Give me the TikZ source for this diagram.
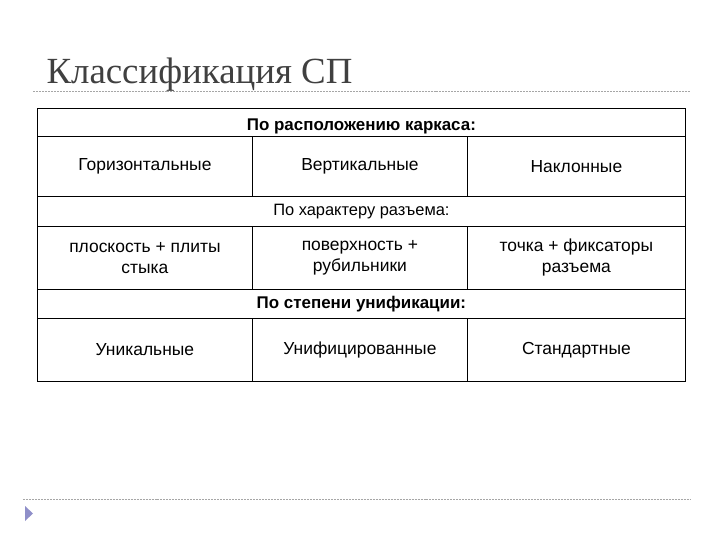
\documentclass[tikz,border=0pt]{standalone}
\usepackage{fontspec}
\setmainfont{Liberation Sans}
\newfontfamily\titlefont{Liberation Serif}
\begin{document}
\begin{tikzpicture}[x=1bp,y=-1bp,
  cell/.style={draw=black,line width=0.8pt,minimum width=#1,anchor=north west,inner sep=0pt,align=center,font=\fontsize{17.5}{21}\selectfont},
  sep/.style={draw=gray!70,dash pattern=on 2pt off 1pt,line width=0.8pt}]
\useasboundingbox (0,0) rectangle (720,540);
\node[anchor=base west,text=black!75,font=\titlefont\fontsize{37}{40}\selectfont] (title) at (43,84) {Классификация СП};
\coordinate (s1a) at (33,91); \coordinate (s1b) at (690,91);
\draw[sep] (s1a) -- (s1b);
\coordinate (s2a) at (23,499); \coordinate (s2b) at (690,499);
\draw[sep] (s2a) -- (s2b);
\fill[blue!35!gray!65] (25,506) -- (33,513.5) -- (25,521) -- cycle;
\node[cell=648bp,minimum height=28bp,text depth=0pt,font=\bfseries\fontsize{17}{19}\selectfont] (h1) at (37,108) {\raisebox{-4bp}{По расположению каркаса:}};
\node[cell=215bp,minimum height=60bp] (a1) at (37,136) {Горизонтальные};
\node[cell=215bp,minimum height=60bp] (a2) at (252,136) {Вертикальные};
\node[cell=218bp,minimum height=60bp] (a3) at (467,136) {Наклонные};
\node[cell=648bp,minimum height=30bp,font=\fontsize{16.5}{18}\selectfont] (h2) at (37,196) {\raisebox{2bp}{По характеру разъема:}};
\node[cell=215bp,minimum height=63bp] (b1) at (37,226) {плоскость + плиты\\стыка};
\node[cell=215bp,minimum height=63bp] (b2) at (252,226) {поверхность +\\рубильники};
\node[cell=218bp,minimum height=63bp] (b3) at (467,226) {точка + фиксаторы\\разъема};
\node[cell=648bp,minimum height=29bp,font=\bfseries\fontsize{17}{19}\selectfont] (h3) at (37,289) {\raisebox{-2bp}{По степени унификации:}};
\node[cell=215bp,minimum height=63bp] (c1) at (37,318) {Уникальные};
\node[cell=215bp,minimum height=63bp] (c2) at (252,318) {Унифицированные};
\node[cell=218bp,minimum height=63bp] (c3) at (467,318) {Стандартные};
\end{tikzpicture}
\end{document}
